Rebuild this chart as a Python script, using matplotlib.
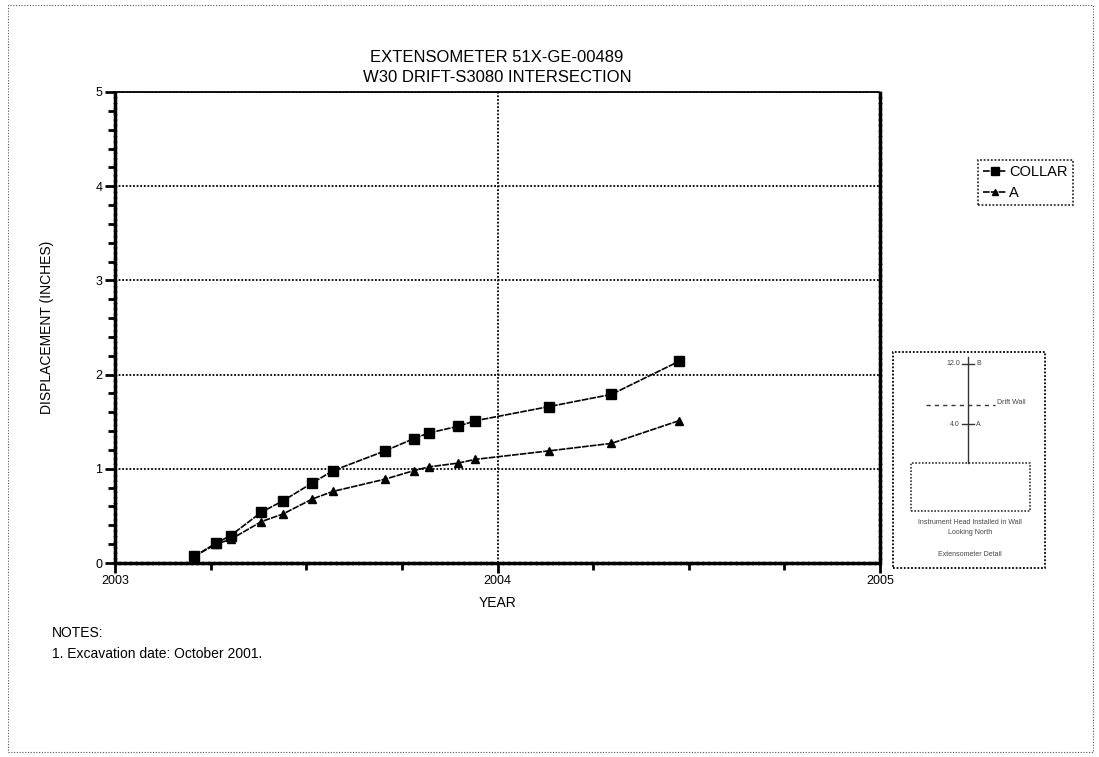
import matplotlib
matplotlib.use("Agg")
import matplotlib.pyplot as plt
from matplotlib.patches import Rectangle
from matplotlib.lines import Line2D

plt.rcParams['font.family'] = ['Liberation Sans', 'DejaVu Sans']

# Data (decimal years)
dates = [2003.207, 2003.264, 2003.302, 2003.383, 2003.439, 2003.516, 2003.570,
         2003.706, 2003.781, 2003.820, 2003.896, 2003.942, 2004.134, 2004.298, 2004.474]
collar = [0.07, 0.21, 0.29, 0.54, 0.66, 0.85, 0.98, 1.19, 1.32, 1.38, 1.45, 1.51, 1.66, 1.79, 2.14]
anchor_a = [0.07, 0.20, 0.25, 0.44, 0.52, 0.68, 0.76, 0.89, 0.98, 1.02, 1.06, 1.10, 1.19, 1.27, 1.51]
x_ticks = [2003, 2004, 2005]
y_ticks = [0, 1, 2, 3, 4, 5]

W, H = 1099, 757
fig = plt.figure(figsize=(W / 100, H / 100), dpi=100)

def fx(px):
    return px / W

def fy(py):
    return 1 - py / H

ax = fig.add_axes([fx(115), fy(563), fx(880) - fx(115), fy(92) - fy(563)])
ax.plot(dates, collar, color='black', lw=1.2, linestyle=(0, (4, 0.7)), marker='s', ms=7, label='COLLAR', zorder=5)
ax.plot(dates, anchor_a, color='black', lw=1.2, linestyle=(0, (4, 0.7)), marker='^', ms=6, label='A', zorder=5)

ax.set_xlim(2003, 2005)
ax.set_ylim(0, 5)
ax.set_xticks(x_ticks)
ax.set_xticklabels([str(t) for t in x_ticks])
ax.set_yticks(y_ticks)
ax.set_yticklabels([str(t) for t in y_ticks])
ax.set_xticks([2003 + q * 0.25 for q in range(1, 8) if q != 4], minor=True)
ax.set_yticks([i * 0.2 for i in range(26) if i % 5 != 0], minor=True)
ax.tick_params(axis='both', which='major', length=7, width=2, labelsize=9, direction='out', pad=2)
ax.tick_params(axis='both', which='minor', length=5, width=2, direction='out')

for yv in [1, 2, 3, 4, 5]:
    ax.axhline(yv, color='black', lw=1.3, linestyle=(0, (1, 1)), zorder=1)
ax.axvline(2004, color='black', lw=1.3, linestyle=(0, (1, 1)), zorder=1)

for side in ['left', 'bottom', 'right']:
    ax.spines[side].set_linestyle((0, (1, 0.6)))
    ax.spines[side].set_linewidth(2.5)
ax.spines['top'].set_linestyle((0, (1, 1)))
ax.spines['top'].set_linewidth(1.3)

ax.set_xlabel('YEAR', fontsize=10, labelpad=6)
ax.set_ylabel('DISPLACEMENT (INCHES)', fontsize=10, labelpad=30)

fig.text(fx(497), fy(58), 'EXTENSOMETER 51X-GE-00489', ha='center', va='center', fontsize=12)
fig.text(fx(497), fy(77), 'W30 DRIFT-S3080 INTERSECTION', ha='center', va='center', fontsize=12)

# Legend
leg = ax.legend(loc='upper left', bbox_to_anchor=(fx(978), fy(160)), bbox_transform=fig.transFigure,
                fontsize=10.5, frameon=True, fancybox=False, handlelength=1.6, handletextpad=0.2,
                borderpad=0.35, labelspacing=0.45, borderaxespad=0, markerscale=0.8)
leg.get_frame().set_edgecolor('black')
leg.get_frame().set_linestyle((0, (1, 1)))
leg.get_frame().set_linewidth(1.3)

# Notes
fig.text(fx(52), fy(633), 'NOTES:', ha='left', va='center', fontsize=10)
fig.text(fx(52), fy(654), '1. Excavation date: October 2001.', ha='left', va='center', fontsize=10)

# Page border
fig.add_artist(Rectangle((fx(8), fy(752)), fx(1093) - fx(8), fy(5) - fy(752), transform=fig.transFigure,
                         fill=False, edgecolor='#555555', lw=0.8, linestyle=(0, (1, 1.5))))

# Inset detail box
fig.add_artist(Rectangle((fx(893), fy(568)), fx(1045) - fx(893), fy(352) - fy(568), transform=fig.transFigure,
                         fill=False, edgecolor='black', lw=1.3, linestyle=(0, (1, 1))))
fig.add_artist(Line2D([fx(968), fx(968)], [fy(357), fy(463)], transform=fig.transFigure, color='#333333', lw=1))
fig.add_artist(Line2D([fx(926), fx(995)], [fy(405), fy(405)], transform=fig.transFigure, color='#333333', lw=1,
                      linestyle=(0, (3, 3))))
fig.add_artist(Line2D([fx(962), fx(974)], [fy(364), fy(364)], transform=fig.transFigure, color='#333333', lw=1))
fig.add_artist(Line2D([fx(962), fx(974)], [fy(424), fy(424)], transform=fig.transFigure, color='#333333', lw=1))
fig.add_artist(Rectangle((fx(911), fy(511)), fx(1030) - fx(911), fy(463) - fy(511), transform=fig.transFigure,
                         fill=False, edgecolor='#333333', lw=1.2, linestyle=(0, (1, 1))))
fig.text(fx(960), fy(364), '12.0', ha='right', va='center', fontsize=5, color='#444444')
fig.text(fx(976), fy(364), 'B', ha='left', va='center', fontsize=5, color='#444444')
fig.text(fx(997), fy(403), 'Drift Wall', ha='left', va='center', fontsize=5, color='#444444')
fig.text(fx(960), fy(424), '4.0', ha='right', va='center', fontsize=5, color='#444444')
fig.text(fx(976), fy(424), 'A', ha='left', va='center', fontsize=5, color='#444444')
fig.text(fx(970), fy(522), 'Instrument Head Installed in Wall', ha='center', va='center', fontsize=5, color='#444444')
fig.text(fx(970), fy(533), 'Looking North', ha='center', va='center', fontsize=5, color='#444444')
fig.text(fx(970), fy(554), 'Extensometer Detail', ha='center', va='center', fontsize=5, color='#444444')

fig.savefig('out.png', dpi=100)
